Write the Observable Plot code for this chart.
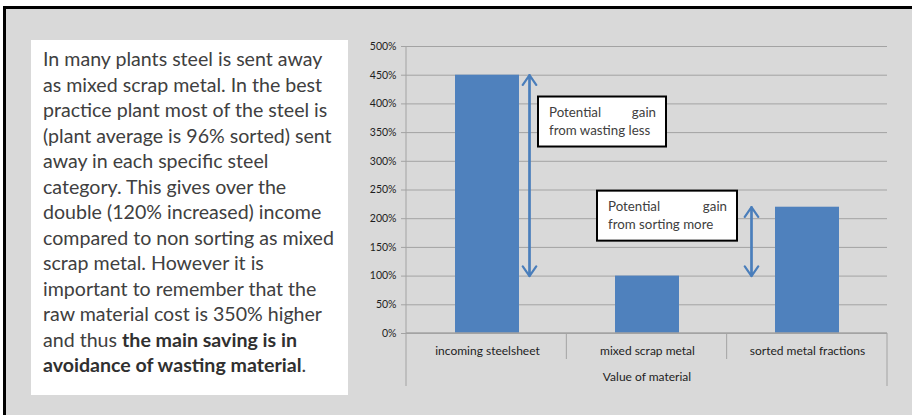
<!DOCTYPE html>
<html>
<head>
<meta charset="utf-8">
<script src="https://cdn.jsdelivr.net/npm/d3@7"></script>
<script src="https://cdn.jsdelivr.net/npm/@observablehq/plot@0.6"></script>
<style>
  html, body { margin: 0; padding: 0; background: #fff; overflow: hidden; }
  #frame {
    position: absolute; left: 3px; top: 6px; width: 960px; height: 460px;
    background: #d9d9d9; border: 3px solid #000; box-sizing: border-box;
  }
  #note {
    position: absolute; left: 31px; top: 40px; width: 317px; height: 355px;
    background: #fff; box-sizing: border-box; padding: 6px 0 0 12px;
    font-family: Lato, sans-serif; font-size: 19.6px; line-height: 25.5px; color: #404040;
    white-space: nowrap;
  }
  #note b { color: #303030; font-weight: 700; }
  #chart { position: absolute; left: 340px; top: 30px; }
</style>
</head>
<body>
<div id="frame"></div>
<div id="note">In many plants steel is sent away<br>as mixed scrap metal. In the best<br>practice plant most of the steel is<br>(plant average is 96% sorted) sent<br>away in each specific steel<br>category. This gives over the<br>double (120% increased) income<br>compared to non sorting as mixed<br>scrap metal. However it is<br>important to remember that the<br>raw material cost is 350% higher<br>and thus <b>the main saving is in<br>avoidance of wasting material</b>.</div>
<div id="chart"></div>
<script>
// Value of material, relative to mixed scrap metal (%)
const categories = ["incoming steelsheet", "mixed scrap metal", "sorted metal fractions"];
const values = [450, 100, 220];
const yTicks = [0, 50, 100, 150, 200, 250, 300, 350, 400, 450, 500];
const axisLabel = "Value of material";

// Potential gains, drawn as double-headed arrows between two value levels
const gainCategory = ["incoming steelsheet", "sorted metal fractions"];
const gainFrom = [450, 220];
const gainTo = [100, 100];
const gainText = [["Potential", "gain", "from wasting less"], ["Potential", "gain", "from sorting more"]];

const bars = categories.map((c, i) => ({category: c, value: values[i]}));
const gains = gainCategory.map((c, i) => ({category: c, from: gainFrom[i], to: gainTo[i], dx: i ? -56 : 42}));

const blue = "#4f81bd";
const arrowBlue = "#4a7ebb";
const grid = "#a3a3a3";

// one arrow each way makes a double-headed arrow
const arrowStyle = {bend: 0, headLength: 8, headAngle: 70, stroke: arrowBlue, strokeWidth: 2.2};
const arrowMarks = gains.flatMap(d => [
  Plot.arrow([d], {x1: "category", x2: "category", y1: "from", y2: "to", dx: d.dx, ...arrowStyle}),
  Plot.arrow([d], {x1: "category", x2: "category", y1: "to", y2: "from", dx: d.dx, ...arrowStyle})
]);

const plot = Plot.plot({
  width: 560,
  height: 370,
  marginLeft: 66,
  marginRight: 13,
  marginTop: 16,
  marginBottom: 67,
  style: {background: "transparent", fontFamily: "Lato, sans-serif", fontSize: "10.5px", color: "#1e1e1e"},
  x: {domain: categories, paddingInner: 0.6, paddingOuter: 0.3, tickSize: 0, tickPadding: 13,
      label: axisLabel, labelAnchor: "center", labelOffset: 47},
  y: {domain: [0, 500], ticks: yTicks, tickFormat: d => d + "%", tickSize: 0, tickPadding: 10, label: null},
  marks: [
    Plot.ruleY(yTicks, {stroke: grid, strokeWidth: 1, insetLeft: -5}),
    Plot.barY(bars, {x: "category", y: "value", fill: blue}),
    ...arrowMarks
  ]
});
document.getElementById("chart").appendChild(plot);

const svg = d3.select(plot);
// larger text on the category axis
svg.selectAll("g[aria-label^='x-axis'] text").attr("font-size", 12);
svg.selectAll("g[aria-label^='x-axis']").attr("font-size", 12);

// Axis furniture and callout boxes, positioned with the plot's own scales
const xs = plot.scale("x"), ys = plot.scale("y");
const [x0, x1] = xs.range;
const step = (x1 - x0) / categories.length;
const yBase = ys.apply(0), yTop = ys.apply(500);
const g = svg.append("g").attr("stroke", grid).attr("fill", "none");
g.append("line").attr("x1", x0).attr("x2", x0).attr("y1", yTop).attr("y2", yBase + 53);
g.append("line").attr("x1", x1).attr("x2", x1).attr("y1", yBase).attr("y2", yBase + 53);
g.append("line").attr("x1", x0).attr("x2", x1).attr("y1", yBase).attr("y2", yBase).attr("stroke-width", 1.5);
for (let i = 1; i < categories.length; ++i) {
  g.append("line").attr("x1", x0 + i * step).attr("x2", x0 + i * step).attr("y1", yBase).attr("y2", yBase + 26);
}

const boxes = [
  {left: xs.apply(gainCategory[0]) + xs.bandwidth / 2 + gains[0].dx + 9, top: ys.apply(412), w: 128, h: 50},
  {left: xs.apply(gainCategory[1]) + xs.bandwidth / 2 + gains[1].dx - 154, top: ys.apply(248), w: 140, h: 50}
];
boxes.forEach((b, i) => {
  const bg = svg.append("g").attr("transform", `translate(${b.left},${b.top})`);
  bg.append("rect").attr("width", b.w).attr("height", b.h).attr("fill", "#fff").attr("stroke", "#000").attr("stroke-width", 2);
  const t = bg.append("g").attr("font-family", "Lato, sans-serif").attr("font-size", 13.3).attr("fill", "#404040");
  t.append("text").attr("x", 11).attr("y", 20).attr("text-anchor", "start").text(gainText[i][0]);
  t.append("text").attr("x", b.w - 10).attr("y", 20).attr("text-anchor", "end").text(gainText[i][1]);
  t.append("text").attr("x", 11).attr("y", 38).attr("text-anchor", "start").text(gainText[i][2]);
});
</script>
</body>
</html>
